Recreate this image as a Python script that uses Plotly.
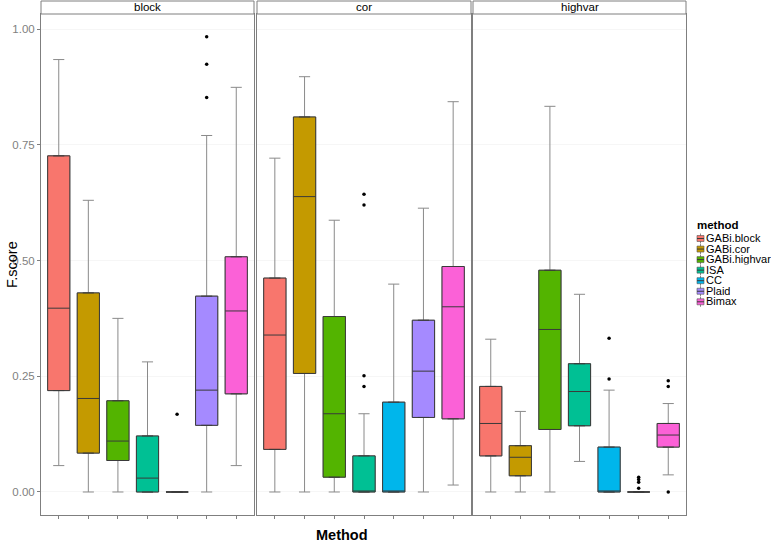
import plotly.graph_objects as go

METHODS = ["GABi.block", "GABi.cor", "GABi.highvar", "ISA", "CC", "Plaid", "Bimax"]
COLORS = ["#F8766D", "#C49A00", "#53B400", "#00C094", "#00B6EB", "#A58AFF", "#FB61D7"]
FACETS = ["block", "cor", "highvar"]

# block facet stats (per method)
BLOCK_LOWER = [0.057, 0.0, 0.0, 0.0, 0.0, 0.0, 0.057]
BLOCK_Q1 = [0.219, 0.084, 0.068, 0.0, 0.0, 0.144, 0.212]
BLOCK_MED = [0.397, 0.202, 0.110, 0.030, 0.0, 0.220, 0.391]
BLOCK_Q3 = [0.726, 0.430, 0.197, 0.121, 0.0, 0.423, 0.508]
BLOCK_UPPER = [0.934, 0.630, 0.375, 0.281, 0.0, 0.770, 0.874]
BLOCK_OUT_METHOD = ["CC", "Plaid", "Plaid", "Plaid"]
BLOCK_OUT_VALUE = [0.168, 0.983, 0.924, 0.852]

# cor facet stats
COR_LOWER = [0.0, 0.0, 0.0, 0.0, 0.0, 0.0, 0.015]
COR_Q1 = [0.092, 0.256, 0.032, 0.0, 0.0, 0.161, 0.158]
COR_MED = [0.339, 0.638, 0.169, 0.0, 0.0, 0.261, 0.400]
COR_Q3 = [0.462, 0.810, 0.379, 0.078, 0.194, 0.371, 0.487]
COR_UPPER = [0.721, 0.897, 0.587, 0.169, 0.449, 0.613, 0.843]
COR_OUT_METHOD = ["ISA", "ISA", "ISA", "ISA"]
COR_OUT_VALUE = [0.251, 0.228, 0.643, 0.620]

# highvar facet stats
HIGHVAR_LOWER = [0.0, 0.0, 0.0, 0.066, 0.0, 0.0, 0.037]
HIGHVAR_Q1 = [0.078, 0.035, 0.135, 0.143, 0.0, 0.0, 0.097]
HIGHVAR_MED = [0.148, 0.075, 0.351, 0.217, 0.0, 0.0, 0.123]
HIGHVAR_Q3 = [0.228, 0.100, 0.479, 0.277, 0.097, 0.0, 0.148]
HIGHVAR_UPPER = [0.330, 0.174, 0.833, 0.427, 0.220, 0.0, 0.191]
HIGHVAR_OUT_METHOD = ["CC", "CC", "Plaid", "Plaid", "Plaid", "Plaid", "Bimax", "Bimax", "Bimax"]
HIGHVAR_OUT_VALUE = [0.332, 0.244, 0.032, 0.027, 0.021, 0.008, 0.240, 0.228, 0.0]

Y_TICKS = [0.0, 0.25, 0.5, 0.75, 1.0]
Y_TICK_LABELS = ["0.00", "0.25", "0.50", "0.75", "1.00"]

W, H = 778, 542
FONT = "Liberation Sans, Arial, sans-serif"

STATS = {
    "block": (BLOCK_LOWER, BLOCK_Q1, BLOCK_MED, BLOCK_Q3, BLOCK_UPPER, BLOCK_OUT_METHOD, BLOCK_OUT_VALUE),
    "cor": (COR_LOWER, COR_Q1, COR_MED, COR_Q3, COR_UPPER, COR_OUT_METHOD, COR_OUT_VALUE),
    "highvar": (HIGHVAR_LOWER, HIGHVAR_Q1, HIGHVAR_MED, HIGHVAR_Q3, HIGHVAR_UPPER, HIGHVAR_OUT_METHOD, HIGHVAR_OUT_VALUE),
}

# panel pixel layout
PANEL_X = [(41, 254), (257, 471), (473, 686)]
PANEL_TOP, PANEL_BOTTOM = 14, 515
STRIP_TOP = 1

def px_x(p):
    return p / W

def px_y(p):
    return 1 - p / H

fig = go.Figure()
layout = dict(
    width=W, height=H,
    margin=dict(l=0, r=0, t=0, b=0),
    paper_bgcolor="white", plot_bgcolor="white",
    showlegend=False,
    font=dict(family=FONT, size=11, color="black"),
    boxmode="overlay",
)

shapes = []
annotations = []

for fi, facet in enumerate(FACETS):
    lower, q1, med, q3, upper, out_m, out_v = STATS[facet]
    xa = "x" if fi == 0 else f"x{fi+1}"
    ya = "y" if fi == 0 else f"y{fi+1}"
    for mi, m in enumerate(METHODS):
        pos = mi + 1
        # whisker layer
        fig.add_trace(go.Box(
            x=[pos], q1=[q1[mi]], median=[med[mi]], q3=[q3[mi]],
            lowerfence=[lower[mi]], upperfence=[upper[mi]],
            width=0.75, fillcolor=COLORS[mi],
            line=dict(color="#8a8a8a", width=1),
            xaxis=xa, yaxis=ya, name=m, hoverinfo="skip",
        ))
        # box layer (darker outline)
        fig.add_trace(go.Box(
            x=[pos], q1=[q1[mi]], median=[med[mi]], q3=[q3[mi]],
            lowerfence=[q1[mi]], upperfence=[q3[mi]],
            width=0.75, fillcolor=COLORS[mi],
            line=dict(color="#3a3a3a", width=1),
            xaxis=xa, yaxis=ya, name=m, hoverinfo="skip",
        ))
    fig.add_trace(go.Scatter(
        x=[METHODS.index(m) + 1 for m in out_m], y=out_v,
        mode="markers", marker=dict(color="black", size=3.5),
        xaxis=xa, yaxis=ya, hoverinfo="skip",
    ))

    x0, x1 = PANEL_X[fi]
    xkey = "xaxis" if fi == 0 else f"xaxis{fi+1}"
    ykey = "yaxis" if fi == 0 else f"yaxis{fi+1}"
    layout[xkey] = dict(
        domain=[px_x(x0), px_x(x1)], range=[0.4, 7.6], anchor=ya,
        tickvals=list(range(1, 8)), showticklabels=False,
        ticks="outside", ticklen=3, tickcolor="#7f7f7f", tickwidth=1,
        showgrid=False, zeroline=False,
        showline=True, mirror=True, linecolor="#7f7f7f", linewidth=1,
    )
    layout[ykey] = dict(
        domain=[px_y(PANEL_BOTTOM), px_y(PANEL_TOP)], range=[-0.0497, 1.0324], anchor=xa,
        tickvals=Y_TICKS, ticktext=Y_TICK_LABELS, showticklabels=(fi == 0),
        ticks="outside" if fi == 0 else "", ticklen=3, tickcolor="#7f7f7f",
        tickfont=dict(size=11.5, color="#7f7f7f", family=FONT),
        showgrid=True, gridcolor="#f6f6f6", gridwidth=1, zeroline=False,
        showline=True, mirror=True, linecolor="#7f7f7f", linewidth=1,
    )
    # strip
    shapes.append(dict(type="rect", xref="paper", yref="paper",
                       x0=px_x(x0), x1=px_x(x1), y0=px_y(PANEL_TOP), y1=px_y(STRIP_TOP),
                       fillcolor="white", line=dict(color="#7f7f7f", width=1)))
    annotations.append(dict(text=facet, xref="paper", yref="paper",
                            x=px_x((x0 + x1) / 2), y=px_y((PANEL_TOP + STRIP_TOP) / 2),
                            xanchor="center", yanchor="middle", showarrow=False,
                            font=dict(size=11.5, color="black", family=FONT)))

# axis titles
annotations.append(dict(text="<b>Method</b>", xref="paper", yref="paper",
                        x=px_x(342), y=px_y(535), xanchor="center", yanchor="middle",
                        showarrow=False, font=dict(size=14.5, color="black", family=FONT)))
annotations.append(dict(text="F.score", xref="paper", yref="paper",
                        x=px_x(12), y=px_y(265), xanchor="center", yanchor="middle",
                        textangle=-90, showarrow=False,
                        font=dict(size=14.5, color="black", family=FONT)))

# manual legend
LEG_X = 696
LEG_TITLE_Y = 225
LEG_Y0 = 238.5
LEG_STEP = 10.55
annotations.append(dict(text="<b>method</b>", xref="paper", yref="paper",
                        x=px_x(LEG_X - 1), y=px_y(LEG_TITLE_Y), xanchor="left", yanchor="middle",
                        showarrow=False, font=dict(size=11.5, color="black", family=FONT)))
for mi, m in enumerate(METHODS):
    cy = LEG_Y0 + mi * LEG_STEP
    shapes.append(dict(type="line", xref="paper", yref="paper",
                       x0=px_x(LEG_X + 4.5), x1=px_x(LEG_X + 4.5),
                       y0=px_y(cy - 5), y1=px_y(cy + 5),
                       line=dict(color="#8a8a8a", width=1)))
    shapes.append(dict(type="rect", xref="paper", yref="paper",
                       x0=px_x(LEG_X + 1), x1=px_x(LEG_X + 8),
                       y0=px_y(cy + 3), y1=px_y(cy - 3),
                       fillcolor=COLORS[mi], line=dict(color="#555555", width=0.6)))
    shapes.append(dict(type="line", xref="paper", yref="paper",
                       x0=px_x(LEG_X + 1), x1=px_x(LEG_X + 8),
                       y0=px_y(cy), y1=px_y(cy),
                       line=dict(color="#3a3a3a", width=1)))
    annotations.append(dict(text=m, xref="paper", yref="paper",
                            x=px_x(LEG_X + 7.5), y=px_y(cy), xanchor="left", yanchor="middle",
                            height=10.5, valign="middle",
                            showarrow=False, font=dict(size=11, color="black", family=FONT)))

layout["shapes"] = shapes
layout["annotations"] = annotations
fig.update_layout(**layout)
fig.write_html(
    "out.html",
    config={"displayModeBar": False, "staticPlot": True},
    post_script="document.body.style.margin='0';document.body.style.overflow='hidden';",
)
